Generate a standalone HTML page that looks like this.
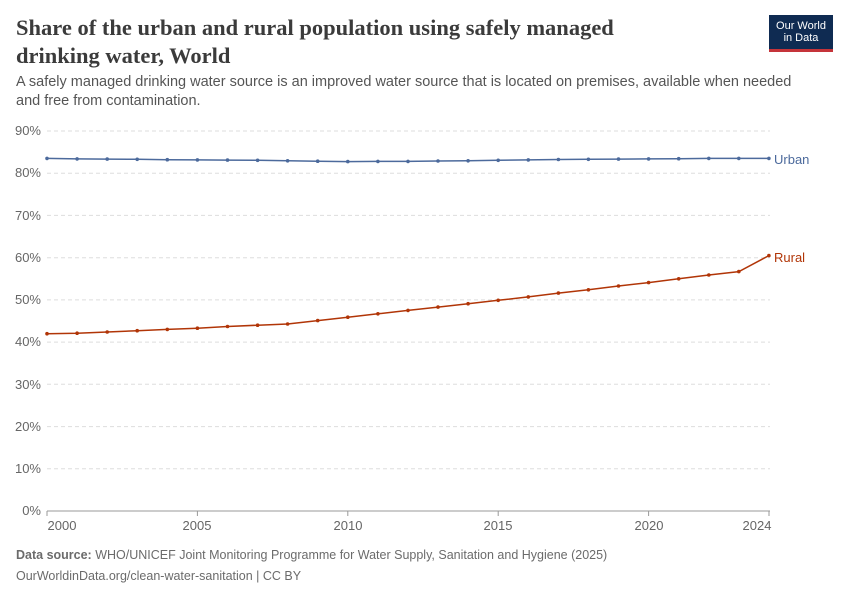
<!DOCTYPE html>
<html><head><meta charset="utf-8"><style>
body{margin:0;background:#fff;width:850px;height:600px;overflow:hidden;font-family:"Liberation Sans",sans-serif;}
.t{position:absolute;left:16px;top:14px;font-family:"Liberation Serif",serif;font-weight:bold;font-size:22.5px;line-height:28px;color:#3b3b3b;}
.s{position:absolute;left:16px;top:73px;font-size:14.5px;line-height:19px;color:#555;width:800px;}
.logo{position:absolute;left:769px;top:15px;width:64px;height:37px;background:#0f2b52;color:#fff;font-size:11px;line-height:12px;text-align:center;padding-top:5px;box-sizing:border-box;border-bottom:3px solid #c5343a;}
.f{position:absolute;left:16px;font-size:12.5px;color:#6b6b6b;}
</style></head><body>
<div class="t">Share of the urban and rural population using safely managed<br>drinking water, World</div>
<div class="s">A safely managed drinking water source is an improved water source that is located on premises, available when needed and free from contamination.</div>
<div class="logo">Our World<br>in Data</div>
<svg width="850" height="600" style="position:absolute;left:0;top:0">
<g stroke="#ddd" stroke-dasharray="4,3" stroke-width="1">
<line x1="47" x2="770" y1="131" y2="131"/><line x1="47" x2="770" y1="173.2" y2="173.2"/><line x1="47" x2="770" y1="215.4" y2="215.4"/><line x1="47" x2="770" y1="257.7" y2="257.7"/><line x1="47" x2="770" y1="299.9" y2="299.9"/><line x1="47" x2="770" y1="342.1" y2="342.1"/><line x1="47" x2="770" y1="384.3" y2="384.3"/><line x1="47" x2="770" y1="426.6" y2="426.6"/><line x1="47" x2="770" y1="468.8" y2="468.8"/>
</g>
<line x1="47" x2="770" y1="511" y2="511" stroke="#999"/>
<g font-size="13" fill="#666" text-anchor="end">
<text x="41" y="135">90%</text><text x="41" y="177">80%</text><text x="41" y="220">70%</text><text x="41" y="262">60%</text><text x="41" y="304">50%</text><text x="41" y="346">40%</text><text x="41" y="389">30%</text><text x="41" y="431">20%</text><text x="41" y="473">10%</text><text x="41" y="515">0%</text>
</g>
<g stroke="#999"><line x1="47" x2="47" y1="511" y2="516"/><line x1="197.4" x2="197.4" y1="511" y2="516"/><line x1="347.8" x2="347.8" y1="511" y2="516"/><line x1="498.2" x2="498.2" y1="511" y2="516"/><line x1="648.6" x2="648.6" y1="511" y2="516"/><line x1="769" x2="769" y1="511" y2="516"/></g>
<g font-size="13" fill="#666" text-anchor="middle">
<text x="62" y="530">2000</text><text x="197" y="530">2005</text><text x="348" y="530">2010</text><text x="498" y="530">2015</text><text x="649" y="530">2020</text><text x="757" y="530">2024</text>
</g>
<polyline id="u" fill="none" stroke="#4c6a9c" stroke-width="1.5" points=""/>
<polyline id="r" fill="none" stroke="#b13507" stroke-width="1.5" points=""/>
<g id="ud" fill="#4c6a9c"></g><g id="rd" fill="#b13507"></g>
<text x="774" y="164" font-size="13" fill="#4c6a9c">Urban</text>
<text x="774" y="262" font-size="13" fill="#b13507">Rural</text>
</svg>
<div class="f" style="top:548px"><b>Data source:</b> WHO/UNICEF Joint Monitoring Programme for Water Supply, Sanitation and Hygiene (2025)</div>
<div class="f" style="top:569px">OurWorldinData.org/clean-water-sanitation | CC BY</div>
<script>
var U=[83.5,83.4,83.35,83.3,83.2,83.15,83.1,83.05,82.95,82.85,82.75,82.8,82.8,82.9,82.95,83.05,83.15,83.25,83.3,83.35,83.4,83.45,83.5,83.5,83.5];
var R=[42,42.1,42.4,42.7,43.0,43.3,43.7,44.0,44.3,45.1,45.9,46.7,47.5,48.3,49.1,49.9,50.7,51.6,52.4,53.3,54.1,55.0,55.9,56.7,60.5];
function go(d,l,g){var p=[],h='';d.forEach(function(v,i){var x=47+i*30.08,y=511-v*4.2222;p.push(x.toFixed(1)+','+y.toFixed(1));h+='<circle cx="'+x.toFixed(1)+'" cy="'+y.toFixed(1)+'" r="1.8"/>';});document.getElementById(l).setAttribute('points',p.join(' '));document.getElementById(g).innerHTML=h;}
go(U,'u','ud');go(R,'r','rd');
</script>
</body></html>
